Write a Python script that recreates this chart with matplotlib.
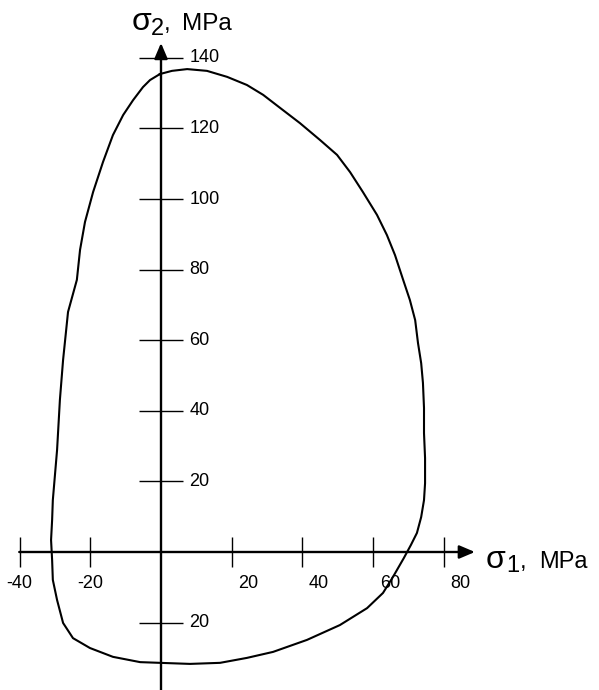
import matplotlib
matplotlib.use('Agg')
import matplotlib.pyplot as plt

# Strength envelope (MPa), clockwise from the top
sigma1 = [-0.3, 3.1, 7.4, 13.0, 18.7, 24.3, 28.9, 33.7, 39.3, 45.0, 49.8, 53.5,
          57.1, 61.1, 63.9, 66.2, 68.5, 70.4, 71.9, 72.7, 73.6, 74.1, 74.4, 74.4,
          74.7, 74.7, 74.4, 73.6, 72.4, 70.7, 68.7, 65.6, 62.8, 58.3, 50.6, 41.3,
          31.7, 24.3, 16.7, 8.2, -0.3, -5.9, -13.6, -20.1, -24.9, -27.7, -29.4,
          -30.6, -30.8, -31.1, -30.8, -30.6, -30.0, -29.4, -28.6, -27.7, -26.3,
          -23.8, -22.9, -21.5, -19.2, -16.4, -13.6, -10.7, -7.9, -5.1, -3.1, -0.3]
sigma2 = [135.4, 136.3, 136.8, 136.3, 134.6, 132.3, 129.5, 125.8, 121.5, 116.7,
          112.5, 107.6, 102.0, 95.5, 89.8, 84.1, 77.1, 71.4, 65.7, 59.2, 53.5,
          47.9, 40.8, 33.7, 26.6, 19.5, 14.7, 9.9, 5.4, 2.0, -1.7, -7.1, -11.6,
          -15.9, -20.7, -24.9, -28.3, -30.0, -31.4, -31.7, -31.4, -31.2, -29.7,
          -27.2, -24.4, -20.1, -13.6, -7.9, -2.3, 3.4, 9.1, 14.7, 21.8, 28.9,
          43.1, 54.4, 68.0, 77.1, 85.6, 93.5, 102.0, 110.5, 118.1, 123.8, 128.0,
          131.7, 133.7, 135.4]

xticks = [-40, -20, 20, 40, 60, 80]
xticklabels = ['-40', '-20', '20', '40', '60', '80']
yticks = [140, 120, 100, 80, 60, 40, 20, -20]
yticklabels = ['140', '120', '100', '80', '60', '40', '20', '20']

plt.rcParams['font.family'] = ['Liberation Sans', 'DejaVu Sans']

W, H = 599, 690
fig = plt.figure(figsize=(W / 100, H / 100), dpi=100)
ax = fig.add_axes([0, 0, 1, 1])
ax.set_xlim(-161 / 3.535, (W - 161) / 3.535)
ax.set_ylim(-(H - 552) / 3.53, 552 / 3.53)
ax.axis('off')

# axes with arrows
arrow = dict(arrowstyle='-|>,head_length=0.47,head_width=0.2', lw=1.7,
             color='black', shrinkA=0, shrinkB=0, mutation_scale=20)
ax.annotate('', xy=(88.8, 0), xytext=(-40.1, 0), arrowprops=arrow)
ax.annotate('', xy=(0, 144.2), xytext=(0, -39.1), arrowprops=arrow)

# tick marks
ax.plot(xticks, [0] * len(xticks), ls='', marker='|', ms=21, mew=1.0, color='black')
ax.plot([0] * len(yticks), yticks, ls='', marker='_', ms=31, mew=1.0, color='black')

for v, s in zip(xticks, xticklabels):
    dx = 0 if v < 0 else 12
    ax.annotate(s, xy=(v, 0), xytext=(dx, -22.5), textcoords='offset points',
                ha='center', va='center', fontsize=13)
for v, s in zip(yticks, yticklabels):
    ax.annotate(s, xy=(0, v), xytext=(20.5, 0), textcoords='offset points',
                ha='left', va='center', fontsize=13)

# envelope
ax.plot(sigma1, sigma2, color='black', lw=1.5, solid_joinstyle='round')


# axis titles built from pieces (pixel positions, baseline)
def ptext(x, y, s, size):
    fig.text(x / W, 1 - y / H, s, fontsize=size, ha='left', va='baseline')


ptext(132, 30, '\u03c3', 23)
ptext(151, 35, '2', 17)
ptext(164, 30, ',', 17.5)
ptext(182, 30, 'MPa', 17.5)

ptext(486, 568, '\u03c3', 23)
ptext(506, 572, '1', 17)
ptext(520, 568, ',', 17)
ptext(539, 568, 'MPa', 17)

fig.savefig('out.png', dpi=100)
